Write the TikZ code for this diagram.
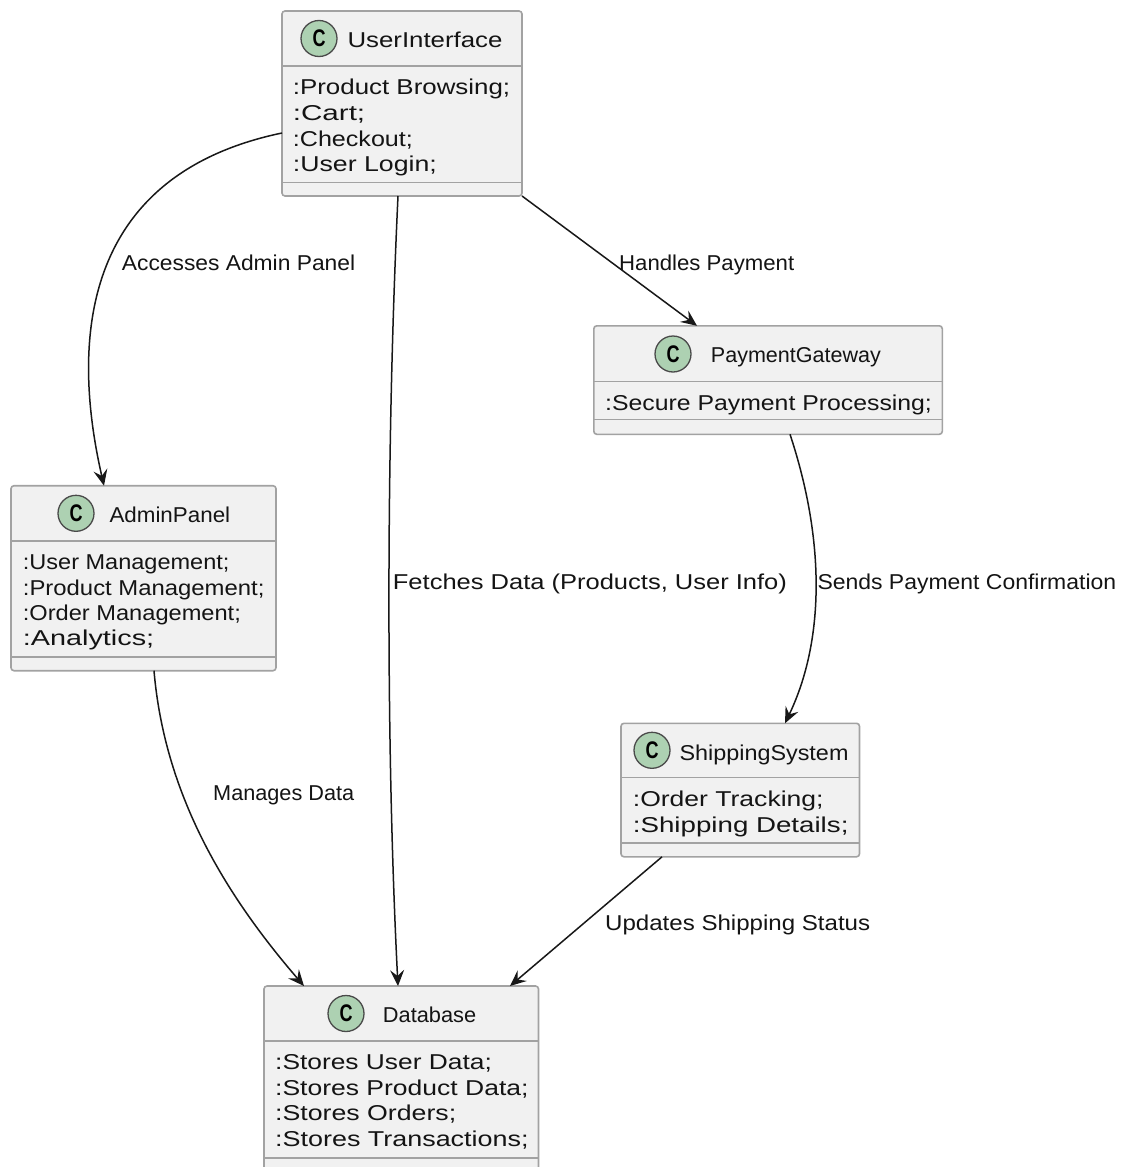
\documentclass[tikz,border=0pt]{standalone}
\usepackage{fontspec}
\setmainfont{Liberation Sans}
\usepackage{graphicx}
\usetikzlibrary{arrows.meta}
\definecolor{boxfill}{HTML}{F1F1F1}
\definecolor{boxline}{HTML}{A2A2A2}
\definecolor{spotfill}{HTML}{ADD1B2}
\definecolor{spotline}{HTML}{4A4A4A}
\definecolor{edgec}{HTML}{181818}
\definecolor{textc}{HTML}{141414}
\newcommand{\fitw}[2]{\resizebox{#1pt}{\height}{#2}}
\tikzset{
 classbox/.style={draw=boxline, fill=boxfill, line width=1.6pt, rounded corners=3pt, anchor=north west, inner sep=0pt, outer sep=0pt},
 divider/.style={draw=boxline, line width=1.6pt},
 spot/.style={circle, draw=spotline, fill=spotfill, line width=1.3pt, minimum size=36pt, inner sep=0pt, font=\fontsize{24}{24}\selectfont\bfseries, text=black},
 txt/.style={anchor=base west, inner sep=0pt, font=\fontsize{21.5}{25}\selectfont, text=textc},
 link/.style={draw=edgec, line width=1.5pt, -{Stealth[length=16pt,width=14pt,inset=6pt]}},
}
\begin{document}
\begin{tikzpicture}[x=1pt,y=-1pt]
\useasboundingbox (0,0) rectangle (1127,1167);
\clip (0,0) rectangle (1127,1167);
\fill[white] (0,0) rectangle (1127,1167);

% ---------- UserInterface
\node[classbox, minimum width=240pt, minimum height=185pt] (ui) at (282,11) {};
\draw[divider] (ui.west |- 0,66) -- (ui.east |- 0,66);
\draw[divider] (ui.west |- 0,182.5) -- (ui.east |- 0,182.5);
\node[spot] (uiC) at (319,38.5) {\fitw{13}{C}};
\node[txt] (uiT) at (347.3,47.7) {\fitw{155}{UserInterface}};
\node[txt] (uiA1) at (292.7,94.3) {\fitw{217.3}{:Product Browsing;}};
\node[txt] (uiA2) at (292.7,120) {\fitw{72.3}{:Cart;}};
\node[txt] (uiA3) at (292.7,146) {\fitw{120}{:Checkout;}};
\node[txt] (uiA4) at (292.7,171.7) {\fitw{144}{:User Login;}};

% ---------- PaymentGateway
\node[classbox, minimum width=348.5pt, minimum height=108.5pt] (pg) at (593.8,325.8) {};
\draw[divider] (pg.west |- 0,381.5) -- (pg.east |- 0,381.5);
\draw[divider] (pg.west |- 0,419.5) -- (pg.east |- 0,419.5);
\node[spot] (pgC) at (673,354) {\fitw{13}{C}};
\node[txt] (pgT) at (710.7,362.7) {\fitw{170}{PaymentGateway}};
\node[txt] (pgA1) at (605,410) {\fitw{326.7}{:Secure Payment Processing;}};

% ---------- AdminPanel
\node[classbox, minimum width=265pt, minimum height=185pt] (ap) at (11,485.7) {};
\draw[divider] (ap.west |- 0,541) -- (ap.east |- 0,541);
\draw[divider] (ap.west |- 0,656.7) -- (ap.east |- 0,656.7);
\node[spot] (apC) at (76,513.3) {\fitw{13}{C}};
\node[txt] (apT) at (109.3,522.7) {\fitw{120.7}{AdminPanel}};
\node[txt] (apA1) at (22.7,569.3) {\fitw{206.6}{:User Management;}};
\node[txt] (apA2) at (22.7,595) {\fitw{241.6}{:Product Management;}};
\node[txt] (apA3) at (22.7,620.5) {\fitw{218}{:Order Management;}};
\node[txt] (apA4) at (22.7,645.5) {\fitw{131.3}{:Analytics;}};

% ---------- ShippingSystem
\node[classbox, minimum width=238.5pt, minimum height=133.5pt] (ss) at (621,723.3) {};
\draw[divider] (ss.west |- 0,777.5) -- (ss.east |- 0,777.5);
\draw[divider] (ss.west |- 0,842.7) -- (ss.east |- 0,842.7);
\node[spot] (ssC) at (652,750.3) {\fitw{13}{C}};
\node[txt] (ssT) at (679.3,760) {\fitw{169}{ShippingSystem}};
\node[txt] (ssA1) at (632.7,806.7) {\fitw{190.6}{:Order Tracking;}};
\node[txt] (ssA2) at (632.7,832.3) {\fitw{215.6}{:Shipping Details;}};

% ---------- Database
\node[classbox, minimum width=274.5pt, minimum height=195pt] (db) at (264,986) {};
\draw[divider] (db.west |- 0,1041) -- (db.east |- 0,1041);
\draw[divider] (db.west |- 0,1157.7) -- (db.east |- 0,1157.7);
\node[spot] (dbC) at (346,1013.5) {\fitw{13}{C}};
\node[txt] (dbT) at (382.7,1022.7) {\fitw{93.3}{Database}};
\node[txt] (dbA1) at (275,1069.5) {\fitw{216.7}{:Stores User Data;}};
\node[txt] (dbA2) at (275,1095) {\fitw{253.3}{:Stores Product Data;}};
\node[txt] (dbA3) at (275,1120.5) {\fitw{181}{:Stores Orders;}};
\node[txt] (dbA4) at (275,1146) {\fitw{253.3}{:Stores Transactions;}};

% ---------- connectors
\draw[link] (ui.west |- 0,133) .. controls (95,172) and (66,320) .. (104,0 |- ap.north);
\draw[link] (398,0 |- ui.south) .. controls (386,450) and (386,750) .. (398,0 |- db.north);
\draw[link] (ui.south east) -- (697,0 |- pg.north);
\draw[link] (790,0 |- pg.south) .. controls (825,540) and (825,640) .. (785,0 |- ss.north);
\draw[link] (154,0 |- ap.south) .. controls (165,800) and (230,900) .. (304,0 |- db.north);
\draw[link] (662,0 |- ss.south) -- (510,0 |- db.north);

% ---------- connector labels
\node[txt] (l1) at (121.7,270) {\fitw{233.3}{Accesses Admin Panel}};
\node[txt] (l2) at (392.7,589.3) {\fitw{394}{Fetches Data (Products, User Info)}};
\node[txt] (l3) at (619,270) {\fitw{175}{Handles Payment}};
\node[txt] (l4) at (817.3,589.3) {\fitw{298.7}{Sends Payment Confirmation}};
\node[txt] (l5) at (213,800) {\fitw{141}{Manages Data}};
\node[txt] (l6) at (605,930) {\fitw{265}{Updates Shipping Status}};
\end{tikzpicture}
\end{document}
